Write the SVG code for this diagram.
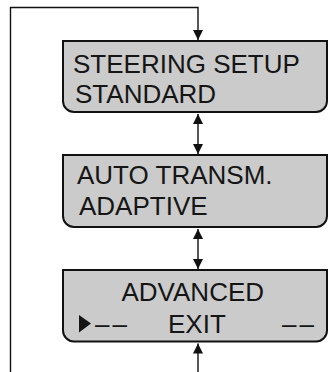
<svg xmlns="http://www.w3.org/2000/svg" width="328" height="372" viewBox="0 0 328 372">
<defs>
<style>
.box{fill:#cbcbcb;stroke:#111;stroke-width:2}
.t{font-family:"Liberation Sans",Arial,sans-serif;font-size:26px;fill:#151515}
.c{fill:none;stroke:#111;stroke-width:1.4}
</style>
<marker id="ah" markerUnits="userSpaceOnUse" markerWidth="11" markerHeight="10" viewBox="0 0 11 10" refX="10" refY="5" orient="auto-start-reverse">
<path d="M0,0 L10,5 L0,10 Z" fill="#111"/>
</marker>
</defs>
<rect width="328" height="372" fill="#fff"/>
<g id="connectors">
<path class="c" d="M10.5,372 V7.5 H198 V40" marker-end="url(#ah)"/>
<path class="c" d="M198,114 V154" marker-start="url(#ah)" marker-end="url(#ah)"/>
<path class="c" d="M198,229 V269" marker-start="url(#ah)" marker-end="url(#ah)"/>
<path class="c" d="M198,372 V343.5" marker-end="url(#ah)"/>
</g>
<g id="steering">
<path class="box" d="M63,41 H327 V101 A11,11 0 0 1 316,112 H74 A11,11 0 0 1 63,101 Z"/>
<text class="t" x="73" y="73">STEERING SETUP</text>
<text class="t" x="75" y="103">STANDARD</text>
</g>
<g id="auto">
<path class="box" d="M63,155 H327 V216 A11,11 0 0 1 316,227 H74 A11,11 0 0 1 63,216 Z"/>
<text class="t" x="77" y="184">AUTO TRANSM.</text>
<text class="t" x="79" y="215">ADAPTIVE</text>
</g>
<g id="advanced">
<path class="box" d="M63,270 H327 V330.5 A11,11 0 0 1 316,341.5 H74 A11,11 0 0 1 63,330.5 Z"/>
<text class="t" x="121.5" y="301">ADVANCED</text>
<polygon points="79,315 91,323.5 79,332.5" fill="#151515"/>
<text class="t" x="95" y="333" letter-spacing="3">––</text>
<text class="t" x="168" y="333">EXIT</text>
<text class="t" x="282" y="333" letter-spacing="3">––</text>
</g>
</svg>
